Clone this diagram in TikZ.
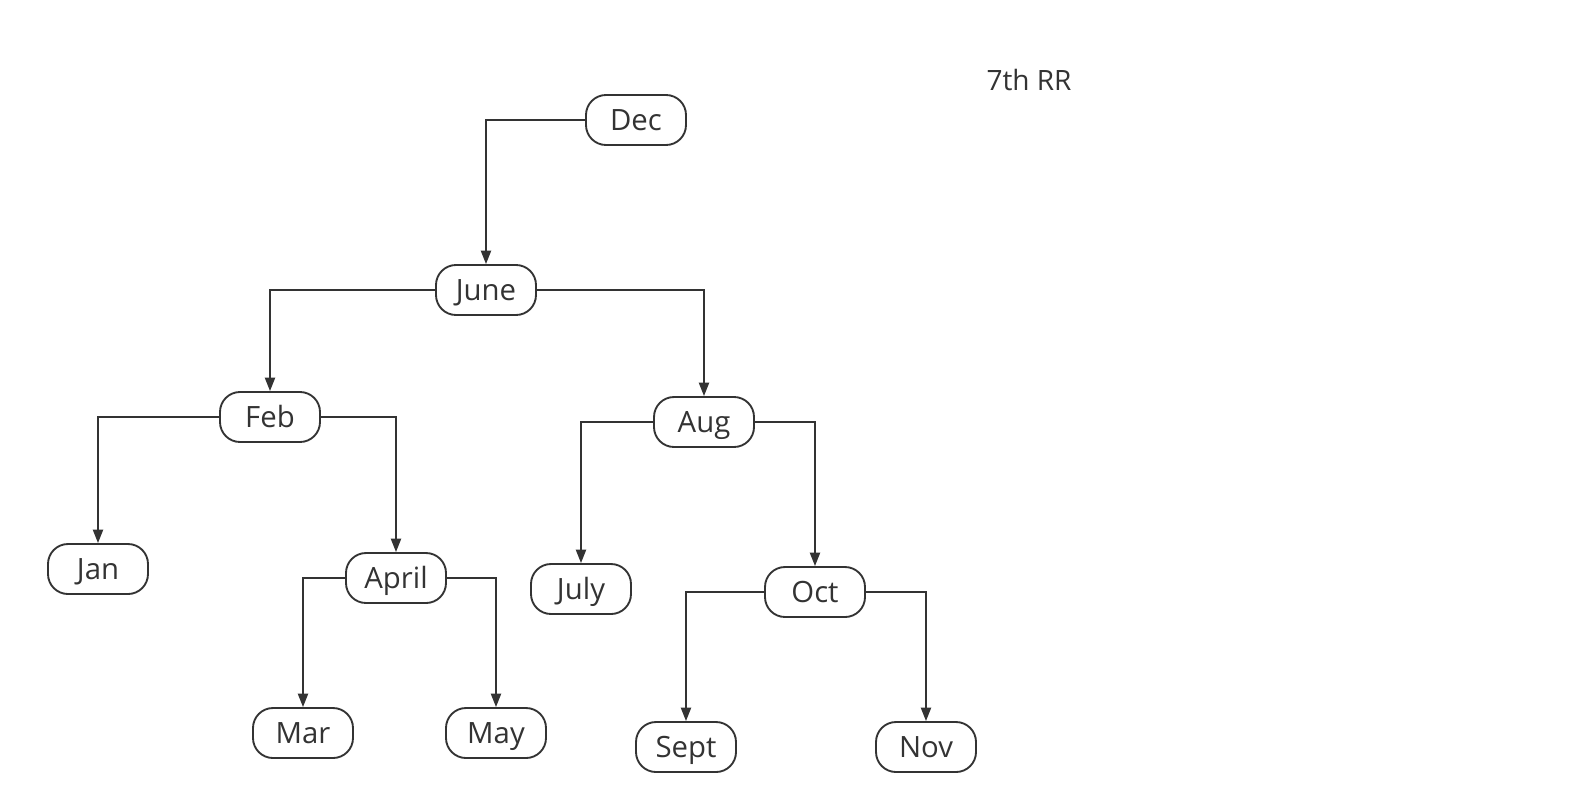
\documentclass[tikz,border=0pt]{standalone}
\usepackage{fontspec}
\setmainfont{Open Sans}
\usetikzlibrary{arrows.meta}

\definecolor{inkgray}{HTML}{333333}

\tikzset{
  month/.style={draw=inkgray, line width=1.4pt, rounded corners=15pt,
    minimum width=75pt, minimum height=37.5pt, inner sep=0pt,
    text height=15.5pt, text depth=0pt,
    text=inkgray, font=\fontsize{22}{24}\selectfont},
  link/.style={draw=inkgray, line width=1.4pt,
    -{Triangle[length=10pt,width=7.5pt]}}
}

\begin{document}
\begin{tikzpicture}[x=0.75pt,y=-0.75pt]
  \useasboundingbox (0,0) rectangle (1583,804);

  \node[month] (dec)   at (636,120) {Dec};
  \node[month] (june)  at (486,290) {June};
  \node[month] (feb)   at (270,417) {Feb};
  \node[month] (aug)   at (704,422) {Aug};
  \node[month] (jan)   at (98,569)  {Jan};
  \node[month] (april) at (396,578) {April};
  \node[month] (july)  at (581,589) {July};
  \node[month] (oct)   at (815,592) {Oct};
  \node[month] (mar)   at (303,733) {Mar};
  \node[month] (may)   at (496,733) {May};
  \node[month] (sept)  at (686,747) {Sept};
  \node[month] (nov)   at (926,747) {Nov};

  \node[text=inkgray, font=\fontsize{21}{24}\selectfont] (title) at (1029,80) {7th RR};

  \draw[link] (dec.west)   -| (june.north);
  \draw[link] (june.west)  -| (feb.north);
  \draw[link] (june.east)  -| (aug.north);
  \draw[link] (feb.west)   -| (jan.north);
  \draw[link] (feb.east)   -| (april.north);
  \draw[link] (aug.west)   -| (july.north);
  \draw[link] (aug.east)   -| (oct.north);
  \draw[link] (april.west) -| (mar.north);
  \draw[link] (april.east) -| (may.north);
  \draw[link] (oct.west)   -| (sept.north);
  \draw[link] (oct.east)   -| (nov.north);

\end{tikzpicture}
\end{document}
